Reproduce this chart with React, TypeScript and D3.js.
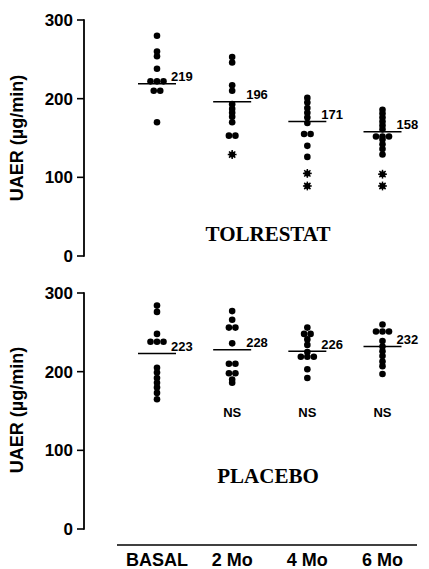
import React from "react";
import * as d3 from "d3";

const timepoints = ["BASAL", "2 Mo", "4 Mo", "6 Mo"];

const tolrestatMeans = [219, 196, 171, 158];
const placeboMeans = [223, 228, 226, 232];

const tolrestatBasal = [280, 260, 254, 238, 222, 222, 222, 210, 210, 170];
const tolrestat2Mo = [253, 246, 217, 210, 193, 187, 182, 177, 170, 153, 153];
const tolrestat4Mo = [201, 195, 188, 182, 176, 169, 155, 155, 140, 126];
const tolrestat6Mo = [186, 181, 176, 171, 166, 161, 152, 152, 152, 148, 142, 136, 129];

const tolrestatStarsBasal: number[] = [];
const tolrestatStars2Mo = [129];
const tolrestatStars4Mo = [105, 89];
const tolrestatStars6Mo = [104, 89];

const placeboBasal = [284, 276, 248, 238, 238, 238, 205, 199, 192, 186, 180, 173, 165];
const placebo2Mo = [277, 266, 256, 256, 236, 210, 210, 198, 198, 190, 186];
const placebo4Mo = [256, 248, 248, 241, 234, 225, 219, 219, 219, 203, 192];
const placebo6Mo = [260, 251, 251, 251, 239, 232, 226, 220, 213, 207, 197];

const placeboSignificance = ["", "NS", "NS", "NS"];
const yTicks = [0, 100, 200, 300];
const panelTitles = ["TOLRESTAT", "PLACEBO"];
const yTitle = "UAER (\u00b5g/min)";

const W = 429;
const H = 569;
const AXIS_X = 84;
const SANS = "'Liberation Sans', Arial, Helvetica, sans-serif";
const SERIF = "'Liberation Serif', 'Times New Roman', serif";

const x = d3.scalePoint<string>().domain(timepoints).range([157, 382.5]);

function dodge(values: number[]) {
  // side-by-side placement for identical values
  const counts = d3.rollup(values, (v) => v.length, (d) => d);
  const seen = new Map<number, number>();
  return values.map((v) => {
    const n = counts.get(v) || 1;
    const i = seen.get(v) || 0;
    seen.set(v, i + 1);
    return { v, off: (i - (n - 1) / 2) * 6.5 };
  });
}

function Star({ cx, cy }: { cx: number; cy: number }) {
  const r = 4.4;
  const angles = [0, 45, 90, 135];
  return (
    <g>
      <circle cx={cx} cy={cy} r={3} fill="#000" />
      {angles.map((a) => {
        const rad = (a * Math.PI) / 180;
        return (
          <line
            key={a}
            x1={cx - r * Math.cos(rad)}
            y1={cy - r * Math.sin(rad)}
            x2={cx + r * Math.cos(rad)}
            y2={cy + r * Math.sin(rad)}
            stroke="#000"
            strokeWidth={1.5}
          />
        );
      })}
    </g>
  );
}

function Panel({
  range,
  points,
  stars,
  means,
  title,
  titleY,
  notes,
  titleCenterY,
}: {
  range: [number, number];
  points: number[][];
  stars: number[][];
  means: number[];
  title: string;
  titleY: number;
  notes: string[];
  titleCenterY: number;
}) {
  const y = d3.scaleLinear().domain([0, 300]).range(range);
  return (
    <g>
      <line x1={AXIS_X} x2={AXIS_X} y1={y(300) - 0.8} y2={y(0) + 0.8} stroke="#000" strokeWidth={1.8} />
      {yTicks.map((t) => (
        <g key={t}>
          <line x1={AXIS_X - 7} x2={AXIS_X} y1={y(t)} y2={y(t)} stroke="#000" strokeWidth={1.6} />
          <text
            x={AXIS_X - 11}
            y={y(t) + 6}
            textAnchor="end"
            fontFamily={SANS}
            fontWeight="bold"
            fontSize={17}
          >
            {t}
          </text>
        </g>
      ))}
      <text
        transform={`translate(23, ${titleCenterY}) rotate(-90)`}
        textAnchor="middle"
        fontFamily={SANS}
        fontWeight="bold"
        fontSize={18}
      >
        {yTitle}
      </text>
      {timepoints.map((tp, ci) => {
        const cx = x(tp) as number;
        return (
          <g key={tp}>
            {dodge(points[ci]).map((p, i) => (
              <circle key={i} cx={cx + p.off} cy={y(p.v)} r={3.3} fill="#000" />
            ))}
            {stars[ci].map((s, i) => (
              <Star key={"s" + i} cx={cx} cy={y(s)} />
            ))}
            <line x1={cx - 19} x2={cx + 19} y1={y(means[ci])} y2={y(means[ci])} stroke="#000" strokeWidth={1.5} />
            <text
              x={cx + 14}
              y={y(means[ci]) - 2.5}
              fontFamily={SANS}
              fontWeight="bold"
              fontSize={13}
            >
              {means[ci]}
            </text>
            {notes[ci] ? (
              <text
                x={cx}
                y={417}
                textAnchor="middle"
                fontFamily={SANS}
                fontWeight="bold"
                fontSize={13}
              >
                {notes[ci]}
              </text>
            ) : null}
          </g>
        );
      })}
      <text x={268} y={titleY} textAnchor="middle" fontFamily={SERIF} fontWeight="bold" fontSize={21}>
        {title}
      </text>
    </g>
  );
}

export default function App() {
  return (
    <svg
      width={W}
      height={H}
      style={{ position: "absolute", left: 0, top: 0, background: "#fff" }}
    >
      <Panel
        range={[256, 20]}
        points={[tolrestatBasal, tolrestat2Mo, tolrestat4Mo, tolrestat6Mo]}
        stars={[tolrestatStarsBasal, tolrestatStars2Mo, tolrestatStars4Mo, tolrestatStars6Mo]}
        means={tolrestatMeans}
        title={panelTitles[0]}
        titleY={241}
        notes={["", "", "", ""]}
        titleCenterY={138}
      />
      <Panel
        range={[529, 293]}
        points={[placeboBasal, placebo2Mo, placebo4Mo, placebo6Mo]}
        stars={[[], [], [], []]}
        means={placeboMeans}
        title={panelTitles[1]}
        titleY={483}
        notes={placeboSignificance}
        titleCenterY={410}
      />
      <line x1={117} x2={417} y1={545} y2={545} stroke="#000" strokeWidth={1.5} />
      {timepoints.map((tp) => (
        <text
          key={tp}
          x={x(tp) as number}
          y={566}
          textAnchor="middle"
          fontFamily={SANS}
          fontWeight="bold"
          fontSize={18}
        >
          {tp}
        </text>
      ))}
    </svg>
  );
}
